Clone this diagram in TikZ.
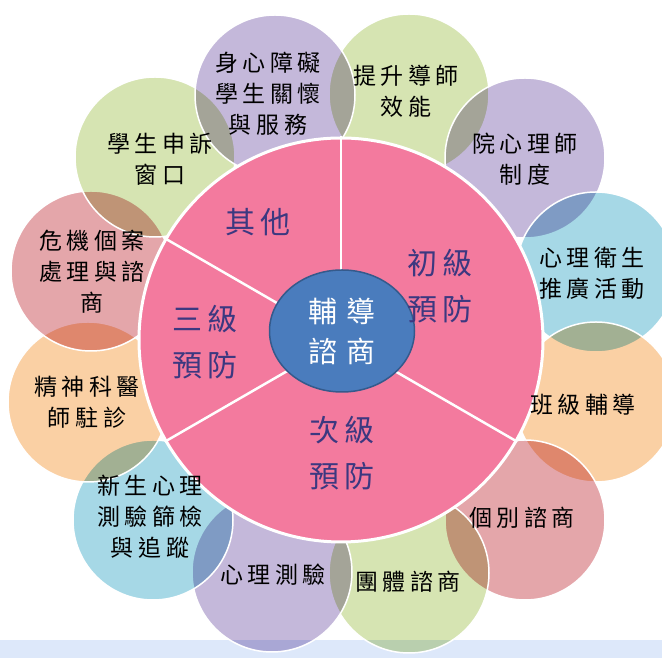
\documentclass[tikz,border=0pt]{standalone}
\usepackage{fontspec}
\usepackage{tikz}
\usetikzlibrary{shapes.geometric}
\newfontfamily\outerfont[LetterSpace=20]{Noto Sans CJK TC}
\newfontfamily\levelfont[LetterSpace=15]{Noto Sans CJK TC}
\newfontfamily\hubfont[LetterSpace=28]{Noto Sans CJK TC}
\definecolor{ringpurple}{RGB}{196,184,218}
\definecolor{ringgreen}{RGB}{214,228,178}
\definecolor{ringblue}{RGB}{166,216,230}
\definecolor{ringorange}{RGB}{250,208,164}
\definecolor{ringpink}{RGB}{228,166,170}
\definecolor{corepink}{RGB}{243,122,158}
\definecolor{hubblue}{RGB}{74,124,189}
\definecolor{hubedge}{RGB}{52,90,140}
\definecolor{levelink}{RGB}{60,56,128}
\definecolor{bandblue}{RGB}{221,232,250}
\begin{document}
\begin{tikzpicture}[x=1pt,y=1pt,
	ringfill/.style={fill=#1,blend mode=multiply},
	ringedge/.style={draw=white,line width=1.5pt},
	outerlabel/.style={align=center,font=\outerfont\fontsize{23}{31}\selectfont,text=black},
	levellabel/.style={align=center,font=\levelfont\fontsize{30}{46}\selectfont,text=levelink}]
	\useasboundingbox (0,0) rectangle (662,658);
	\clip (0,0) rectangle (662,658);
	\fill[white] (0,0) rectangle (662,658);
	\fill[bandblue] (0,0) rectangle (662,18);
	\foreach \px/\py/\col in {409/564/ringgreen,525/500/ringpurple,596/386/ringblue,596/256/ringorange,
				525/138/ringpink,409/85/ringgreen,272/86/ringpurple,153/138/ringblue,88/256/ringorange,
				91/387/ringpink,155/501/ringgreen,275/563/ringpurple}{
		\fill[ringfill=\col] (\px,\py) circle (80);
		\draw[ringedge] (\px,\py) circle (80);
	}
	\node[circle,minimum size=404pt,inner sep=0pt,fill=corepink,draw=white,line width=3pt] (core) at (341,318) {};
	\foreach \ang in {90,-30,210,150}
		\draw[white,line width=2.5pt] (core.center) -- (core.\ang);
	\node[ellipse,minimum width=145pt,minimum height=122pt,inner sep=0pt,fill=hubblue,draw=hubedge,line width=1.5pt,
		align=center,text=white,font=\hubfont\fontsize{29}{40}\selectfont] (hub) at (342,327) {輔導\\諮商};
	\node[levellabel] (other) at (258,436) {其他};
	\node[levellabel] (primary) at (440,372) {初級\\預防};
	\node[levellabel] (tertiary) at (205,316) {三級\\預防};
	\node[levellabel] (secondary) at (342,205) {次級\\預防};
	\node[outerlabel] (disability) at (268,564) {身心障礙\\學生關懷\\與服務};
	\node[outerlabel] (tutor) at (406,567) {提升導師\\效能};
	\node[outerlabel] (psychologist) at (525,499) {院心理師\\制度};
	\node[outerlabel] (promotion) at (592,385) {心理衛生\\推廣活動};
	\node[outerlabel] (classguide) at (583,253) {班級輔導};
	\node[outerlabel] (individual) at (522,140) {個別諮商};
	\node[outerlabel] (group) at (408,76) {團體諮商};
	\node[outerlabel] (testing) at (273,83) {心理測驗};
	\node[outerlabel] (screening) at (150,141) {新生心理\\測驗篩檢\\與追蹤};
	\node[outerlabel] (psychiatry) at (87,256) {精神科醫\\師駐診};
	\node[outerlabel] (crisis) at (92,386) {危機個案\\處理與諮\\商};
	\node[outerlabel] (appeal) at (160,499) {學生申訴\\窗口};
\end{tikzpicture}
\end{document}
